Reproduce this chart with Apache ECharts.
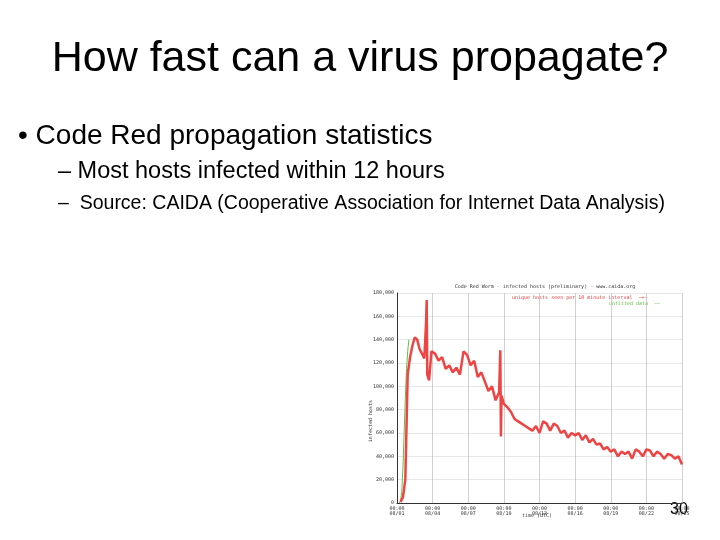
<!DOCTYPE html><html><head><meta charset="utf-8"><script src="https://cdn.jsdelivr.net/npm/echarts@6/dist/echarts.min.js"></script>
<style>body{margin:0;background:#fff}#c{width:720px;height:540px}</style></head><body><div id="c"></div><script>
const xTickLabels=['00:00\n08/01','00:00\n08/04','00:00\n08/07','00:00\n08/10','00:00\n08/13','00:00\n08/16','00:00\n08/19','00:00\n08/22','00:00\n08/25'];
const yTicks=[0,20000,40000,60000,80000,100000,120000,140000,160000,180000];
const greenX=[0.2,0.3,0.4,0.5,0.6,0.7,0.8,0.9,1.0];
const greenY=[0,2000,10000,30000,60000,90000,115000,130000,140000];
const redX=[0.3,0.5,0.7,0.9,1.1,1.3,1.5,1.7,1.9,2.1,2.3,2.45,2.5,2.55,2.7,2.9,3.2,3.5,3.8,4.1,4.4,4.7,5.0,5.3,5.6,5.9,6.2,6.5,6.8,7.1,7.4,7.7,8.0,8.3,8.6,8.7,8.75,8.8,9.0,9.3,9.6,9.9,10.2,10.5,10.8,11.1,11.4,11.7,12.0,12.3,12.6,12.9,13.2,13.5,13.8,14.1,14.4,14.7,15.0,15.3,15.6,15.9,16.2,16.5,16.8,17.1,17.4,17.7,18.0,18.3,18.6,18.9,19.2,19.5,19.8,20.1,20.4,20.7,21.0,21.3,21.6,21.9,22.2,22.5,22.8,23.1,23.4,23.7,24.0];
const redY=[1000,5000,20000,110000,125000,135000,142000,140000,132000,128000,124000,155000,174000,110000,105000,130000,128000,122000,125000,115000,118000,112000,116000,110000,130000,127000,118000,122000,108000,112000,104000,96000,100000,88000,95000,131000,57000,92000,85000,82000,78000,72000,70000,68000,66000,64000,62000,66000,60000,70000,68000,62000,68000,66000,60000,62000,56000,60000,58000,60000,54000,58000,52000,55000,50000,51000,46000,48000,44000,46000,40000,44000,42000,44000,38000,46000,44000,40000,46000,45000,40000,44000,42000,38000,42000,41000,38000,40000,33000];
const chart=echarts.init(document.getElementById('c'));
const small={fontFamily:'DejaVu Sans Mono',fontSize:5,color:'#333'};
chart.setOption({
animation:false,
title:{text:'Code Red Worm - infected hosts (preliminary) - www.caida.org',left:540,top:279,textAlign:'center',textStyle:{...small,fontWeight:'normal'}},
graphic:[
{type:'text',left:'center',top:38,style:{text:'How fast can a virus propagate?',font:'43px "Liberation Sans"',fill:'#000'}},
{type:'text',left:18,top:122,style:{text:'• Code Red propagation statistics',font:'28px "Liberation Sans"',fill:'#000'}},
{type:'text',left:58,top:160,style:{text:'– Most hosts infected within 12 hours',font:'23.5px "Liberation Sans"',fill:'#000'}},
{type:'text',left:58,top:194,style:{text:'–  Source: CAIDA (Cooperative Association for Internet Data Analysis)',font:'19.5px "Liberation Sans"',fill:'#000'}},
{type:'text',left:670,top:502,style:{text:'30',font:'16px "Liberation Sans"',fill:'#000'}},
{type:'text',left:512,top:295,style:{text:'unique hosts seen per 10 minute interval  —+—',font:'5px "DejaVu Sans Mono"',fill:'#e04040'}},
{type:'text',left:609,top:301,style:{text:'unfitted data  ——',font:'5px "DejaVu Sans Mono"',fill:'#60c040'}},
{type:'text',left:368,top:400,rotation:Math.PI/2,style:{text:'infected hosts',font:'5px "DejaVu Sans Mono"',fill:'#333'}},
{type:'text',left:522,top:513,style:{text:'time (UTC)',font:'5px "DejaVu Sans Mono"',fill:'#333'}}
],
grid:{left:397,right:38,top:293,bottom:37},
xAxis:{type:'value',min:0,max:24,interval:3,axisLine:{lineStyle:{color:'#333'}},axisTick:{show:false},
 splitLine:{lineStyle:{color:'#bbb',width:0.7}},axisLabel:{...small,margin:3,formatter:v=>xTickLabels[v/3]}},
yAxis:{type:'value',min:0,max:180000,interval:20000,axisLine:{show:true,lineStyle:{color:'#333'}},axisTick:{show:false},
 splitLine:{lineStyle:{color:'#ddd',width:0.7}},axisLabel:{...small,margin:3}},
series:[
{type:'line',data:greenX.map((x,i)=>[x,greenY[i]]),symbol:'none',lineStyle:{color:'#60c040',width:1}},
{type:'line',data:redX.map((x,i)=>[x,redY[i]]),symbol:'none',lineStyle:{color:'#ee4444',width:2.5}}
]});
</script></body></html>
